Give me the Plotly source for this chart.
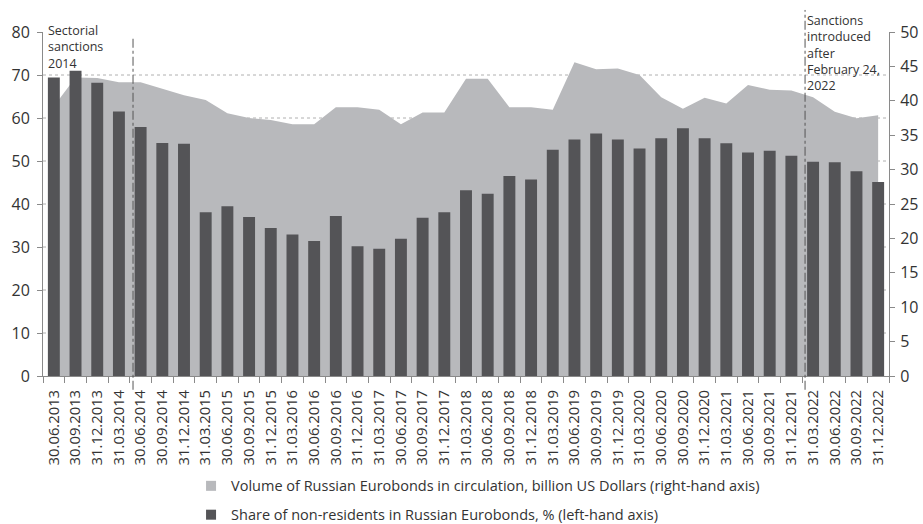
import plotly.graph_objects as go

dates = ["30.06.2013","30.09.2013","31.12.2013","31.03.2014","30.06.2014","30.09.2014","31.12.2014",
         "31.03.2015","30.06.2015","30.09.2015","31.12.2015","31.03.2016","30.06.2016","30.09.2016",
         "31.12.2016","31.03.2017","30.06.2017","30.09.2017","31.12.2017","31.03.2018","30.06.2018",
         "30.09.2018","31.12.2018","31.03.2019","30.06.2019","30.09.2019","31.12.2019","31.03.2020",
         "30.06.2020","30.09.2020","31.12.2020","31.03.2021","30.06.2021","30.09.2021","31.12.2021",
         "31.03.2022","30.06.2022","30.09.2022","31.12.2022"]

volume_bn_usd = [39.2, 43.4, 43.3, 42.7, 42.7, 41.7, 40.8, 40.1, 38.2, 37.5, 37.2, 36.6, 36.6,
                 39.05, 39.05, 38.7, 36.6, 38.3, 38.3, 43.2, 43.2, 39.05, 39.05, 38.7, 45.6, 44.6,
                 44.7, 43.75, 40.5, 38.85, 40.45, 39.6, 42.3, 41.6, 41.5, 40.5, 38.4, 37.45, 37.9]

nonres_share_pct = [69.4, 71.0, 68.2, 61.5, 57.9, 54.2, 54.0, 38.1, 39.5, 37.0, 34.4, 32.9, 31.4,
                    37.2, 30.2, 29.6, 31.9, 36.8, 38.1, 43.2, 42.4, 46.5, 45.7, 52.6, 55.0, 56.4,
                    55.0, 52.9, 55.3, 57.6, 55.3, 54.1, 52.0, 52.4, 51.2, 49.8, 49.7, 47.6, 45.1]

left_ticks = list(range(0, 81, 10))
right_ticks = list(range(0, 51, 5))
grid_levels = [10, 20, 30, 40, 50, 60, 70]

NAME_VOL = "Volume of Russian Eurobonds in circulation, billion US Dollars (right-hand axis)"
NAME_SHARE = "Share of non-residents in Russian Eurobonds, % (left-hand axis)"

FONT = "Open Sans"
TXT = "#333333"
AXC = "#8a8a8a"
C_AREA = "#b8b9bc"
C_BAR = "#545457"

fig = go.Figure()

fig.add_trace(go.Scatter(
    x=dates, y=volume_bn_usd, mode="lines", fill="tozeroy",
    line=dict(width=0, color=C_AREA), fillcolor=C_AREA,
    name=NAME_VOL, yaxis="y", showlegend=False,
))
fig.add_trace(go.Bar(
    x=dates, y=nonres_share_pct, marker=dict(color=C_BAR, line=dict(width=0)),
    width=0.55, name=NAME_SHARE, yaxis="y2", showlegend=False,
))
# legend entries (square swatches)
fig.add_trace(go.Scatter(x=[None], y=[None], mode="markers", name=NAME_VOL,
                         marker=dict(symbol="square", size=10, color=C_AREA),
                         legendrank=1, legendgroup="a"))
fig.add_trace(go.Scatter(x=[None], y=[None], mode="markers", name=NAME_SHARE,
                         marker=dict(symbol="square", size=10, color=C_BAR),
                         legendrank=2, legendgroup="b"))

shapes = []
for g in grid_levels:
    shapes.append(dict(type="line", xref="paper", yref="y2", x0=0, x1=1, y0=g, y1=g,
                       line=dict(color="#b0b0b0", width=1, dash="dot"), layer="below"))
shapes.append(dict(type="line", xref="x", yref="paper", x0=3.65, x1=3.65, y0=-0.04, y1=0.983,
                   line=dict(color="#555555", width=1, dash="dashdot")))
shapes.append(dict(type="line", xref="x", yref="paper", x0=34.63, x1=34.63, y0=-0.04, y1=1.064,
                   line=dict(color="#555555", width=1, dash="dashdot")))

fig.update_layout(
    width=923, height=524,
    margin=dict(l=43, r=34, t=32, b=148, autoexpand=False),
    paper_bgcolor="white", plot_bgcolor="white",
    font=dict(family=FONT, color=TXT, size=13),
    showlegend=True,
    legend=dict(x=0.175, y=-0.273, xanchor="left", yanchor="top", orientation="v",
                font=dict(size=14.5, color=TXT), tracegroupgap=7,
                itemwidth=30, bgcolor="rgba(0,0,0,0)"),
    xaxis=dict(type="category", range=[-0.5, 38.5], tickangle=-90, tickson="boundaries",
               ticks="outside", ticklen=6, tickcolor=AXC, showline=True, linecolor=AXC,
               showgrid=False, tickfont=dict(size=14.8, color=TXT), ticklabelstandoff=7),
    yaxis=dict(side="right", range=[0, 50], tickvals=right_ticks, ticks="outside", ticklen=5,
               tickcolor=AXC, showline=True, linecolor=AXC, showgrid=False, zeroline=False,
               tickfont=dict(size=16, color=TXT), anchor="x", ticklabelstandoff=2),
    yaxis2=dict(side="left", overlaying="y", range=[0, 80], tickvals=left_ticks, ticks="outside",
                ticklen=5, tickcolor=AXC, showline=True, linecolor=AXC, showgrid=False,
                zeroline=False, tickfont=dict(size=16, color=TXT), anchor="x",
                ticklabelstandoff=4),
    shapes=shapes,
    annotations=[
        dict(xref="paper", yref="paper", x=0.004, y=1.035, xanchor="left", yanchor="top",
             text="Sectorial<br>sanctions<br>2014", showarrow=False, align="left",
             font=dict(size=12.5, color=TXT)),
        dict(xref="paper", yref="paper", x=0.901, y=1.065, xanchor="left", yanchor="top",
             text="Sanctions<br>introduced<br>after<br>February 24,<br>2022", showarrow=False,
             align="left", font=dict(size=12.5, color=TXT)),
    ],
)

fig.write_html("out.html", config={"displayModeBar": False},
               post_script="document.body.style.margin='0';")
